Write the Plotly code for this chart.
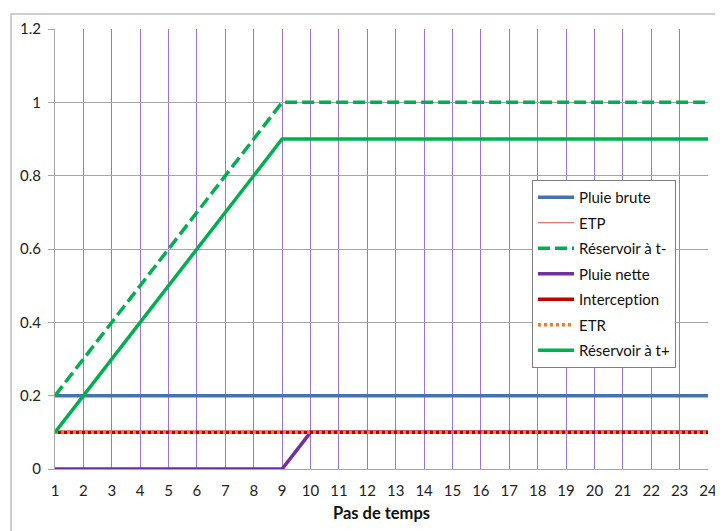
import plotly.graph_objects as go

steps = list(range(1, 25))
pluie_brute = [0.2] * 24
etp = [0.1] * 24
reservoir_tm = [0.2, 0.3, 0.4, 0.5, 0.6, 0.7, 0.8, 0.9, 1.0] + [1.0] * 15
pluie_nette = [0, 0, 0, 0, 0, 0, 0, 0, 0] + [0.1] * 15
interception = [0.1] * 24
etr = [0.1] * 24
reservoir_tp = [0.1, 0.2, 0.3, 0.4, 0.5, 0.6, 0.7, 0.8, 0.9] + [0.9] * 15

font_family = "Lato, Open Sans, sans-serif"

series = [
    ("Pluie brute", pluie_brute, dict(color="#4672b0", width=3.5)),
    ("ETP", etp, dict(color="#c0504d", width=1)),
    ("Réservoir à t-", reservoir_tm, dict(color="#00b050", width=3.5, dash="12px,5px")),
    ("Pluie nette", pluie_nette, dict(color="#7030a0", width=3.5)),
    ("Interc\u200cep\u200ct\u200cion", interception, dict(color="#c00000", width=3.5)),
    ("ETR", etr, dict(color="#ed7d31", width=3.5, dash="3px,3px")),
    ("Réservoir à t+", reservoir_tp, dict(color="#00b050", width=3.5)),
]

fig = go.Figure()
for i, (name, vals, line) in enumerate(series):
    fig.add_trace(go.Scatter(
        x=steps, y=vals, mode="lines", name=name, line=line,
        legendgroup=f"g{i}",
    ))

# page body has an 8px margin, so the figure is offset by 8px
L, T, PW, PH = 47, 21, 653, 440

fig.update_layout(
    width=715, height=523,
    margin=dict(l=L, r=15, t=T, b=62, autoexpand=False),
    paper_bgcolor="white", plot_bgcolor="white",
    font=dict(family=font_family, size=15, color="#222"),
    showlegend=True,
    legend=dict(
        x=(524 - L) / PW, y=1 - (172 - T) / PH, xanchor="left", yanchor="top",
        bordercolor="#7f7f7f", borderwidth=1, bgcolor="white",
        font=dict(size=15, family=font_family, color="#111"),
        tracegroupgap=3, itemwidth=36,
    ),
    xaxis=dict(
        range=[1, 24], tickmode="linear", tick0=1, dtick=1,
        showgrid=True, gridcolor="#9e74cf", gridwidth=1,
        showline=True, linecolor="#a6a6a6", linewidth=1,
        zeroline=False, ticks="", ticklabelstandoff=8,
        title=dict(text="<b>Pas de temps</b>", font=dict(size=16.5, family=font_family, color="#111"), standoff=9),
    ),
    yaxis=dict(
        range=[0, 1.2], tickmode="linear", tick0=0, dtick=0.2,
        showgrid=True, gridcolor="#a6a6a6", gridwidth=1,
        showline=True, linecolor="#a6a6a6", linewidth=1,
        zeroline=False, ticks="outside", ticklen=6, tickcolor="#a6a6a6",
        ticklabelstandoff=4,
    ),
    shapes=[dict(
        type="rect", xref="paper", yref="paper",
        x0=(3 - L) / PW, x1=1.1, y0=-0.3, y1=1 + (T - 6) / PH,
        line=dict(color="#bfbfbf", width=1.5), fillcolor="rgba(0,0,0,0)", layer="below",
    )],
)

fig.write_html("out.html")
